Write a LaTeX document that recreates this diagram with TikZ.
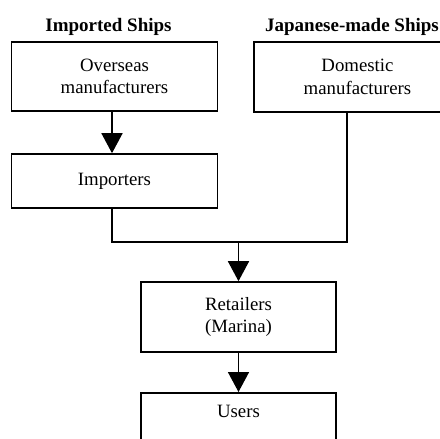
\documentclass[tikz,border=0pt]{standalone}
\usepackage{fontspec}
\setmainfont{Liberation Serif}
\usetikzlibrary{arrows.meta}
\begin{document}
\begin{tikzpicture}[x=1pt,y=-1pt,
  box/.style={draw,line width=1.6pt,inner sep=0pt,align=center,
    font=\fontsize{18.8}{22.5}\selectfont},
  title/.style={font=\fontsize{19}{22}\selectfont\bfseries,anchor=base,inner sep=0pt},
  conn/.style={line width=1.6pt},
  arr/.style={conn,-{Triangle[length=20pt,width=21pt]}}]
\useasboundingbox (0,0) rectangle (440,439);
\clip (0,0) rectangle (440,439);
\node[title] (t1) at (108.5,31) {Imported Ships};
\node[title] (t2) at (352,31) {Japanese-made Ships};
\node[box,minimum width=206pt,minimum height=69pt] (ov) at (114.5,76.5) {Overseas\\manufacturers};
\node[box,minimum width=207pt,minimum height=70pt] (dom) at (357.5,77) {Domestic\\manufacturers};
\node[box,minimum width=206pt,minimum height=54pt] (imp) at (114.5,181) {Importers};
\node[box,minimum width=195pt,minimum height=70pt] (ret) at (238.5,317) {Retailers\\(Marina)};
\node[box,minimum width=195pt,inner ysep=12pt,text height=13pt,text depth=20pt,anchor=north] (usr) at (238.5,392) {Users};
\coordinate (j1) at (112,242);
\coordinate (j2) at (347,242);
\coordinate (jm) at (238.5,242);
\draw[arr] (ov.south -| j1) -- (imp.north -| j1);
\draw[conn] (imp.south -| j1) -- (j1) -- (j2) -- (dom.south -| j2);
\draw[arr] (jm) -- (ret.north);
\draw[arr] (ret.south) -- (usr.north);
\end{tikzpicture}
\end{document}
